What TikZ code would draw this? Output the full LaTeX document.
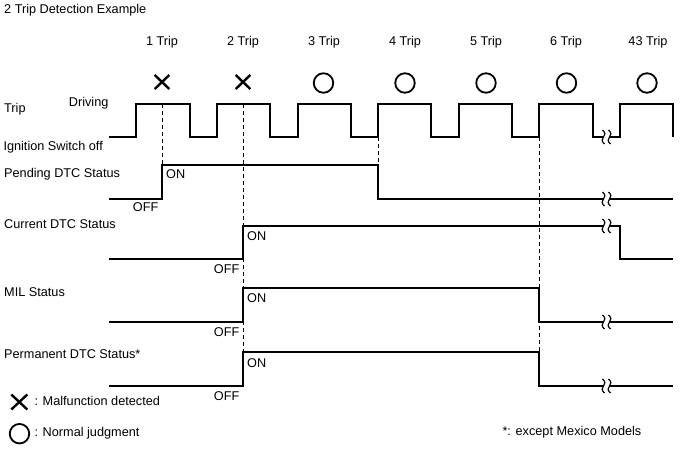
\documentclass[tikz,border=0pt]{standalone}
\usepackage{fontspec}
\setmainfont{Liberation Sans}
\usetikzlibrary{calc}
\begin{document}
\begin{tikzpicture}[x=1pt,y=-1pt,
  lbl/.style={anchor=base west,inner sep=0pt,font=\fontsize{12.7}{15}\selectfont},
  tlbl/.style={anchor=base,inner sep=0pt,font=\fontsize{12.7}{15}\selectfont},
  wave/.style={line width=1.8pt,line join=miter},
  guide/.style={line width=1pt,dash pattern=on 4pt off 3pt},
  xmark/.style={line width=2.4pt},
  omark/.style={circle,draw,line width=1.8pt,minimum size=19.5pt,inner sep=0pt},
  brk/.pic={
    \draw[line width=1.2pt] (-4,-7) .. controls (-1,-4.5) and (-1,-2) .. (-3,0) .. controls (-5,2) and (-5,4.5) .. (-2,7);
    \draw[line width=1.2pt] (2,-7) .. controls (5,-4.5) and (5,-2) .. (3,0) .. controls (1,2) and (1,4.5) .. (4,7);
  }
]
\useasboundingbox (0,0) rectangle (688,463);

% texts
\node[lbl] (title) at (4,13.5) {2 Trip Detection Example};
\node[lbl] (trip) at (4,112.3) {Trip};
\node[lbl] (driving) at (68.7,106) {Driving};
\node[lbl] (ign) at (3.3,150.7) {Ignition Switch off};
\node[lbl] (pend) at (4,177.3) {Pending DTC Status};
\node[lbl] (curr) at (4,228.3) {Current DTC Status};
\node[lbl] (mil) at (4,296.7) {MIL Status};
\node[lbl] (perm) at (4,358.3) {Permanent DTC Status*};

\foreach \x/\t [count=\i] in {162/1 Trip,243/2 Trip,324/3 Trip,405/4 Trip,486/5 Trip,566/6 Trip,648/43 Trip}
  \node[tlbl] (tr\i) at (\x,45) {\t};

% marks
\foreach \x [count=\i] in {162,243}{
  \coordinate (x\i) at (\x,82);
  \draw[xmark] ($(x\i)+(-7.3,-7)$) -- ($(x\i)+(7.3,7)$);
  \draw[xmark] ($(x\i)+(-7.3,7)$) -- ($(x\i)+(7.3,-7)$);
}
\foreach \x [count=\i] in {323.5,405,486,566.5,647}
  \node[omark] (o\i) at (\x,83) {};

% guides
\draw[guide] (162,104) -- (162,165);
\draw[guide] (243,104) -- (243,352);
\draw[guide] (378,137) -- (378,165);
\draw[guide] (539,137) -- (539,386);

% trip wave
\draw[wave] (109,137) -- (136,137) -- (136,104) -- (190,104) -- (190,137) -- (217,137) -- (217,104) -- (270,104) -- (270,137) -- (298,137) -- (298,104) -- (351,104) -- (351,137) -- (378,137) -- (378,104) -- (431,104) -- (431,137) -- (459,137) -- (459,104) -- (512,104) -- (512,137) -- (539,137) -- (539,104) -- (593,104) -- (593,137) -- (603.5,137);
\draw[wave] (609.5,137) -- (620,137) -- (620,104) -- (673,104) -- (673,137);
\pic at (606.5,137) {brk};

% pending
\draw[wave] (109,199) -- (162,199) -- (162,165) -- (378,165) -- (378,199) -- (603.5,199);
\draw[wave] (609.5,199) -- (673,199);
\pic at (606.5,199) {brk};
\node[lbl] (pon) at (166,178.3) {ON};
\node[lbl] (poff) at (132.7,211.7) {OFF};

% current
\draw[wave] (109,259) -- (243,259) -- (243,226) -- (603.5,226);
\draw[wave] (609.5,226) -- (620,226) -- (620,259) -- (673,259);
\pic at (606.5,226) {brk};
\node[lbl] (con) at (247,240.7) {ON};
\node[lbl] (coff) at (213.7,273.3) {OFF};

% MIL
\draw[wave] (109,322) -- (243,322) -- (243,288) -- (539,288) -- (539,322) -- (603.5,322);
\draw[wave] (609.5,322) -- (673,322);
\pic at (606.5,322) {brk};
\node[lbl] (mon) at (247,302.3) {ON};
\node[lbl] (moff) at (213.7,336) {OFF};

% permanent
\draw[wave] (109,386) -- (243,386) -- (243,352) -- (539,352) -- (539,386) -- (603.5,386);
\draw[wave] (609.5,386) -- (673,386);
\pic at (606.5,386) {brk};
\node[lbl] (peon) at (247,367.3) {ON};
\node[lbl] (peoff) at (213.7,400.7) {OFF};

% legend
\coordinate (lx) at (19.3,402);
\draw[xmark] ($(lx)+(-8,-7.5)$) -- ($(lx)+(8,7.5)$);
\draw[xmark] ($(lx)+(-8,7.5)$) -- ($(lx)+(8,-7.5)$);
\node[lbl] (lxt) at (34.3,405) {: Malfunction detected};
\node[omark,minimum size=19.5pt] (lo) at (19.5,433.7) {};
\node[lbl] (lot) at (34.3,436) {: Normal judgment};
\node[lbl] (note) at (502.3,435.7) {*: except Mexico Models};
\end{tikzpicture}
\end{document}
